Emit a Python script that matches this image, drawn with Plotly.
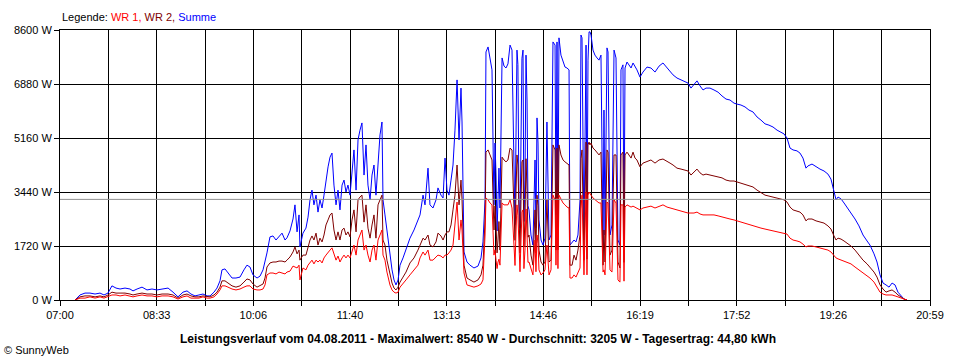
import plotly.graph_objects as go

# Minutes after 07:00
minutes = [14.5,19.3,24.1,28.9,33.8,38.6,42.4,46.3,50.1,54.0,57.9,62.7,67.5,70.4,74.3,79.1,83.9,88.7,93.5,98.4,
104.2,109.0,113.8,118.6,122.5,126.3,130.2,134.0,137.9,141.8,144.7,148.5,151.4,154.3,156.2,159.1,162.0,165.9,169.7,173.6,
177.4,180.3,183.2,186.1,190.0,192.9,195.8,197.7,199.6,202.5,205.4,208.3,211.2,214.1,217.0,218.9,221.8,224.7,226.6,228.6,
230.5,231.4,234.3,237.2,239.2,241.1,243.0,244.9,246.9,248.8,250.7,252.7,254.6,256.5,258.5,260.4,262.3,264.2,266.2,268.1,
270.0,272.0,273.9,275.8,277.7,279.7,281.6,283.5,285.5,287.4,289.3,291.2,293.2,295.1,297.0,299.0,300.9,302.8,304.7,306.7,
308.6,310.5,311.5,313.4,315.3,318.2,320.2,322.1,324.0,326.0,327.9,330.8,333.7,337.5,341.4,345.2,347.2,350.1,352.0,354.9,
356.8,359.7,362.6,364.5,367.4,369.4,371.3,373.2,375.1,377.1,379.0,380.9,382.9,384.8,386.7,387.7,389.6,392.5,395.4,399.2,
403.1,406.0,407.9,409.9,410.8,412.8,414.7,416.6,418.5,420.5,422.4,424.3,426.3,428.2,430.1,432.0,434.0,435.9,437.8,439.8,
440.7,442.6,444.6,446.5,448.4,450.4,452.3,454.2,456.1,458.1,460.0,461.9,463.9,465.8,467.7,469.6,471.6,473.5,475.4,477.4,
478.3,479.3,481.2,483.1,485.1,487.0,488.9,490.9,491.8,493.8,495.7,497.6,499.5,501.5,502.4,503.4,505.3,507.3,509.2,510.2,
511.1,512.1,514.0,515.9,517.9,519.8,521.7,523.7,524.6,525.6,527.5,528.5,530.4,532.3,534.3,536.2,538.1,540.0,541.0,542.9,
544.9,546.8,548.7,550.7,552.6,554.5,556.4,559.3,562.2,566.1,569.9,573.8,577.7,581.5,585.4,588.3,591.2,595.0,598.9,602.7,
605.6,608.5,611.4,614.3,617.2,620.1,623.0,626.8,630.7,634.6,638.4,642.3,646.1,650.0,652.9,656.7,660.6,664.4,668.3,672.2,
676.0,679.9,683.7,687.6,691.5,694.3,698.2,701.1,704.0,706.9,710.7,713.6,716.5,719.4,721.3,725.2,729.1,732.9,736.8,740.6,
743.5,746.4,748.4,750.3,753.2,756.1,759.0,762.8,766.7,770.5,774.4,778.3,781.1,785.0,787.9,790.8,793.7,796.6,799.5,802.4,
805.3,808.1,811.0,813.9,816.8]

summe = [0,160,220,220,190,220,160,220,450,380,350,380,350,290,350,410,320,350,320,350,
380,250,100,250,290,190,130,160,190,130,130,250,380,610,960,990,860,700,700,730,
960,1110,1050,800,700,760,960,1210,1500,2010,2040,1910,2010,2130,1910,1980,2200,2580,3030,2170,
2710,1690,2130,2290,2640,3190,3500,3030,3340,2800,3190,2930,3340,3820,4240,4550,4680,3660,3030,3500,
2870,3660,3820,3440,3660,3340,4140,4780,3500,5100,5410,5640,3980,4940,3660,3190,3980,4300,3340,4460,
5260,5670,3190,2710,2230,1430,960,640,480,640,1110,1340,1590,1970,2230,2550,2710,3340,3030,4200,
3030,2930,3190,3570,3340,3250,4520,3500,3340,3820,4300,5410,7010,5100,6750,5670,1530,1210,1110,1020,
1080,1340,1850,3190,7900,8060,7640,7330,3030,3980,3190,2930,7710,7450,7390,7520,8120,7960,3190,5350,
7960,3190,5410,7960,3820,6370,2870,2070,1750,4460,5800,2550,1910,1750,1970,5670,1910,2070,8220,8120,
2710,8220,8350,7800,7580,7420,7390,7330,1750,1850,1910,1850,2070,3190,8440,8350,1910,8120,7640,8540,
8540,8440,7960,7800,7710,7640,7800,1750,6050,2070,8030,7900,2070,2390,7960,7710,1910,1750,7330,7490,
7390,7580,7490,7390,7550,7450,7330,7100,7260,7420,7390,7260,7450,7550,7390,7260,7170,7070,7010,6940,
6910,6750,6850,6980,6820,6690,6750,6750,6690,6620,6500,6400,6370,6270,6240,6210,6150,6050,5990,5830,
5730,5610,5570,5510,5410,5350,5290,5160,4840,4780,4750,4680,4520,4200,4270,4330,4240,4170,4110,4010,
3850,3500,3190,3280,3220,3090,2960,2770,2580,2360,2070,1880,1750,1470,1210,800,540,480,410,540,
480,250,130,30,0]

wr2 = [0,100,130,130,100,130,100,160,250,220,220,220,190,160,190,220,190,190,160,190,
190,160,60,160,190,130,100,100,130,100,100,160,250,410,610,610,540,450,410,450,
570,670,640,510,410,450,510,700,1050,1180,1210,1210,1240,1240,1210,1270,1370,1530,1690,1470,
1590,1270,1430,1430,1690,1910,2040,1910,2130,1750,1970,1850,2070,2390,2550,2710,2770,2230,1910,2170,
1910,2230,2290,2070,2170,2010,2550,2870,2170,3190,3280,3340,2480,3030,2290,1970,2390,2710,1970,3030,
3190,3340,1910,1750,1270,800,540,380,320,410,570,730,890,1180,1340,1590,1750,1970,1910,2070,
1750,1690,1850,2130,2040,1910,2070,2170,2170,2390,2870,3340,4300,3030,3820,3190,1110,700,640,570,
640,800,1110,2550,4710,4780,4620,4460,2230,2390,1910,1590,4550,4460,4400,4460,4840,4780,2710,3500,
4620,2390,3190,4460,2550,3500,2070,1430,1110,2870,3340,1590,1210,1110,1210,3190,1210,1270,4940,4780,
1590,4840,4940,4620,4460,4400,4360,4300,1110,1110,1430,1270,1590,2070,4500,4780,1270,5030,4940,5030,
4940,5000,4840,4780,4710,4620,4710,1110,2230,1210,4780,4710,1430,1590,4620,4620,1210,1020,4620,4710,
4620,4710,4620,4520,4710,4520,4460,4240,4360,4400,4460,4360,4460,4490,4430,4360,4300,4200,4170,4140,
4110,3980,4080,4170,4050,3980,4010,3980,3950,3920,3890,3820,3790,3790,3760,3730,3690,3630,3600,3500,
3410,3340,3310,3280,3250,3220,3190,3120,2960,2870,2830,2800,2710,2520,2580,2580,2520,2480,2450,2360,
2260,2040,1910,1970,1940,1880,1820,1720,1590,1430,1270,1150,1050,890,730,480,350,250,290,320,
250,160,100,30,0]

wr1 = [0,60,60,100,60,100,60,100,160,160,130,160,130,100,130,160,130,130,100,130,
130,100,30,100,130,60,60,60,100,60,60,100,190,320,450,450,410,350,320,350,
410,450,450,350,320,320,350,480,800,860,860,830,890,860,830,890,920,1080,1050,1020,
1110,640,1020,960,1110,1210,1270,1150,1270,1210,1270,1180,1340,1430,1530,1590,1660,1430,1270,1400,
1210,1340,1430,1340,1430,1340,1590,1750,1430,1910,2070,2230,1590,1750,1430,1210,1590,1750,1270,1910,
2070,2230,1430,1270,890,480,320,250,220,250,410,510,640,800,960,1110,1340,1530,1430,1590,
1270,1270,1370,1430,1400,1340,1430,1430,1500,1590,1750,2390,3120,1910,2550,2230,860,480,450,410,
450,510,640,2070,3250,3190,3090,3030,1430,1270,1210,1110,3090,3030,3030,3030,3190,2930,1750,2230,
3030,1430,1910,2870,1590,2070,1210,960,800,1910,2070,960,800,860,960,1750,800,960,3340,3190,
1110,3250,3340,3190,3090,3030,2960,2930,700,700,800,730,860,1020,2900,3340,800,3440,3340,3440,
3380,3340,3250,3190,3120,3090,3090,890,960,800,3120,3090,960,890,3190,3090,640,570,3030,3030,
2960,3030,2990,2960,2990,2960,2930,2870,2930,2960,2990,2930,2990,3030,2960,2930,2900,2870,2830,2800,
2770,2770,2770,2800,2740,2710,2710,2710,2710,2680,2640,2610,2580,2550,2520,2480,2450,2390,2360,2330,
2290,2260,2230,2200,2170,2130,2100,2100,1970,1910,1880,1850,1780,1690,1720,1720,1690,1660,1620,1590,
1530,1400,1340,1310,1270,1240,1210,1150,1050,960,860,760,700,570,410,250,190,160,160,160,
130,100,60,30,0]

# Extra readings in the cloudy (fast-changing) period
extra_minutes = [419.5, 421.5, 423.3, 438.8, 441.6, 443.6, 445.5, 447.4, 449.4, 451.3, 459.0, 461.0, 480.2, 508.2, 543.9]
extra_summe = [5000, 2200, 4200, 2400, 7500, 2300, 7700, 2500, 7800, 3000, 2300, 5000, 2300, 2000, 1900]
extra_wr2 = [3000, 1500, 2500, 1900, 4300, 1500, 4400, 1700, 4500, 2000, 1500, 3000, 1600, 1300, 1200]
extra_wr1 = [1600, 1000, 1300, 1100, 2700, 900, 2800, 1000, 2900, 1200, 900, 1800, 1000, 800, 600]

tick_labels = ["07:00", "08:33", "10:06", "11:40", "13:13", "14:46", "16:19", "17:52", "19:26", "20:59"]
y_ticks = [0, 1720, 3440, 5160, 6880, 8600]
average_w = 3205
span_min = 839

rows = sorted(zip(minutes + extra_minutes, wr1 + extra_wr1, wr2 + extra_wr2, summe + extra_summe))
t_all = [r[0] for r in rows]
wr1_all = [r[1] for r in rows]
wr2_all = [r[2] for r in rows]
summe_all = [r[3] for r in rows]

FONT = "Liberation Sans, Arial, sans-serif"

fig = go.Figure()
fig.add_trace(go.Scatter(x=t_all, y=summe_all, mode="lines", name="Summe",
                         line=dict(color="#0000FF", width=1)))
fig.add_trace(go.Scatter(x=t_all, y=wr2_all, mode="lines", name="WR 2",
                         line=dict(color="#800000", width=1)))
fig.add_trace(go.Scatter(x=t_all, y=wr1_all, mode="lines", name="WR 1",
                         line=dict(color="#FF0000", width=1)))

grid_vals = [i * span_min / 18 for i in range(19)]
grid_text = []
for i in range(19):
    grid_text.append(tick_labels[i // 2] if i % 2 == 0 else "")

fig.add_shape(type="line", xref="paper", yref="y", x0=0, x1=1, y0=average_w, y1=average_w,
              line=dict(color="#909090", width=1), layer="above")

fig.update_layout(
    width=960, height=360,
    margin=dict(l=60, r=30, t=30, b=60),
    paper_bgcolor="white", plot_bgcolor="white",
    showlegend=False,
    font=dict(family=FONT, size=11, color="black"),
    xaxis=dict(range=[0, span_min], tickmode="array", tickvals=grid_vals, ticktext=grid_text,
               showgrid=True, gridcolor="black", gridwidth=1, zeroline=False,
               showline=True, linecolor="black", linewidth=1, mirror=True,
               ticks="outside", ticklen=5, tickcolor="black", tickfont=dict(size=11)),
    yaxis=dict(range=[0, 8600], tickmode="array", tickvals=y_ticks,
               ticktext=[f"{v} W" for v in y_ticks],
               showgrid=True, gridcolor="black", gridwidth=1, zeroline=False,
               showline=True, linecolor="black", linewidth=1, mirror=True,
               ticks="outside", ticklen=5, tickcolor="black", tickfont=dict(size=11)),
    annotations=[
        dict(xref="paper", yref="paper", x=0, y=1, xanchor="left", yanchor="bottom", yshift=5,
             showarrow=False, align="left",
             text="Legende: <span style='color:#FF0000'>WR 1, </span><span style='color:#800000'>WR 2, </span><span style='color:#0000FF'>Summe</span>",
             font=dict(size=11, family=FONT)),
        dict(xref="paper", yref="paper", x=0.48, y=0, xanchor="center", yanchor="top", yshift=-30,
             showarrow=False,
             text="<b>Leistungsverlauf vom 04.08.2011 - Maximalwert: 8540 W - Durchschnitt: 3205 W - Tagesertrag: 44,80 kWh</b>",
             font=dict(size=12, family=FONT)),
        dict(xref="paper", yref="paper", x=0, y=0, xanchor="left", yanchor="top", xshift=-58, yshift=-42,
             showarrow=False, text="© SunnyWeb", font=dict(size=11, family=FONT)),
    ],
)

fig.write_html("out.html", config={"displayModeBar": False},
               post_script="document.body.style.margin='0px';document.body.style.padding='0px';")
